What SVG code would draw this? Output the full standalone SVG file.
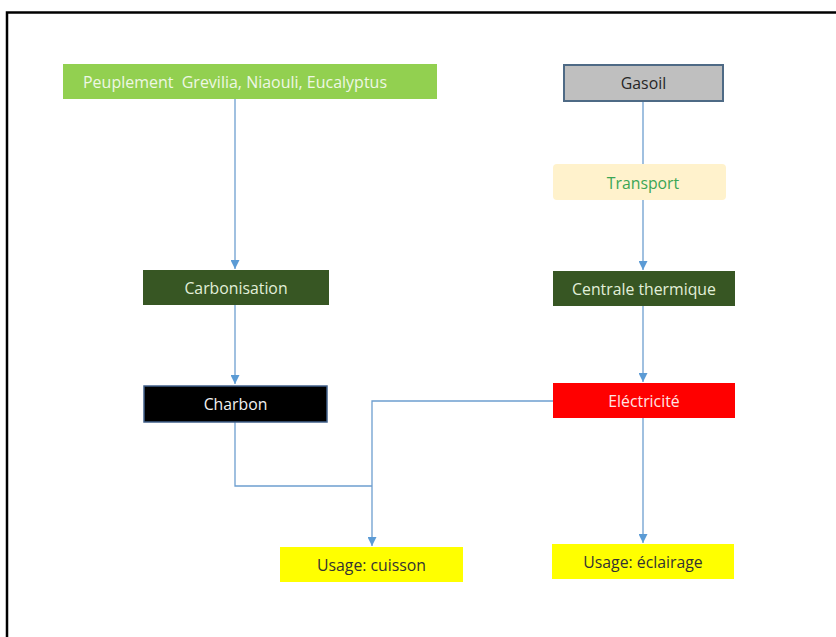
<svg xmlns="http://www.w3.org/2000/svg" width="836" height="637" viewBox="0 0 836 637">
<defs>
<style>
.t{font-family:"Open Sans","Liberation Sans",Arial,sans-serif;font-size:15.8px;text-anchor:middle;dominant-baseline:central}
.c{fill:none;stroke:#6D9ECF;stroke-width:1.3}
</style>
<marker id="ah" viewBox="0 0 10 10" refX="10" refY="5" markerWidth="9" markerHeight="9" markerUnits="userSpaceOnUse" orient="auto">
<path d="M0,0 L10,5 L0,10 z" fill="#5B9BD5"/>
</marker>
</defs>
<rect width="836" height="637" fill="#fff"/>
<path d="M7,640 V12.5 H840" fill="none" stroke="#000" stroke-width="2.5"/>
<g id="connectors">
<path class="c" d="M235,99 V269" marker-end="url(#ah)"/>
<path class="c" d="M235,305 V384" marker-end="url(#ah)"/>
<path class="c" d="M235,422 V486 H372"/>
<path class="c" d="M553,401 H372 V546" marker-end="url(#ah)"/>
<path class="c" d="M643,101 V164"/>
<path class="c" d="M643,200 V270" marker-end="url(#ah)"/>
<path class="c" d="M643,306 V382" marker-end="url(#ah)"/>
<path class="c" d="M643,418 V543" marker-end="url(#ah)"/>
</g>
<g id="peuplement">
<rect x="63" y="64" width="374" height="35" fill="#92D050"/>
<text class="t" x="235" y="81.5" fill="#EEF7E4" textLength="304" lengthAdjust="spacingAndGlyphs" xml:space="preserve">Peuplement  Grevilia, Niaouli, Eucalyptus</text>
</g>
<g id="gasoil">
<rect x="564" y="65" width="159" height="36" fill="#BFBFBF" stroke="#4E6A85" stroke-width="2"/>
<text class="t" x="643.5" y="83" fill="#262626">Gasoil</text>
</g>
<g id="transport">
<rect x="553" y="164" width="173" height="36" rx="4" fill="#FFF2CC"/>
<text class="t" x="643" y="183" fill="#3AA655">Transport</text>
</g>
<g id="carbonisation">
<rect x="143" y="270" width="186" height="35" fill="#375623"/>
<text class="t" x="236" y="287.5" fill="#E2EFD9">Carbonisation</text>
</g>
<g id="centrale">
<rect x="553" y="271" width="182" height="35" fill="#375623"/>
<text class="t" x="644" y="288.5" fill="#E2EFD9">Centrale thermique</text>
</g>
<g id="charbon">
<rect x="144" y="386" width="183" height="36" fill="#000" stroke="#41608A" stroke-width="1.5"/>
<text class="t" x="235.5" y="404" fill="#F2F2F2">Charbon</text>
</g>
<g id="electricite">
<rect x="553" y="383" width="182" height="35" fill="#FF0000"/>
<text class="t" x="644" y="400.5" fill="#FFE4E4">Eléctricité</text>
</g>
<g id="cuisson">
<rect x="280" y="547" width="183" height="35" fill="#FFFF00"/>
<text class="t" x="371.5" y="564.5" fill="#333">Usage: cuisson</text>
</g>
<g id="eclairage">
<rect x="552" y="544" width="182" height="35" fill="#FFFF00"/>
<text class="t" x="643" y="561.5" fill="#333">Usage: éclairage</text>
</g>
</svg>
